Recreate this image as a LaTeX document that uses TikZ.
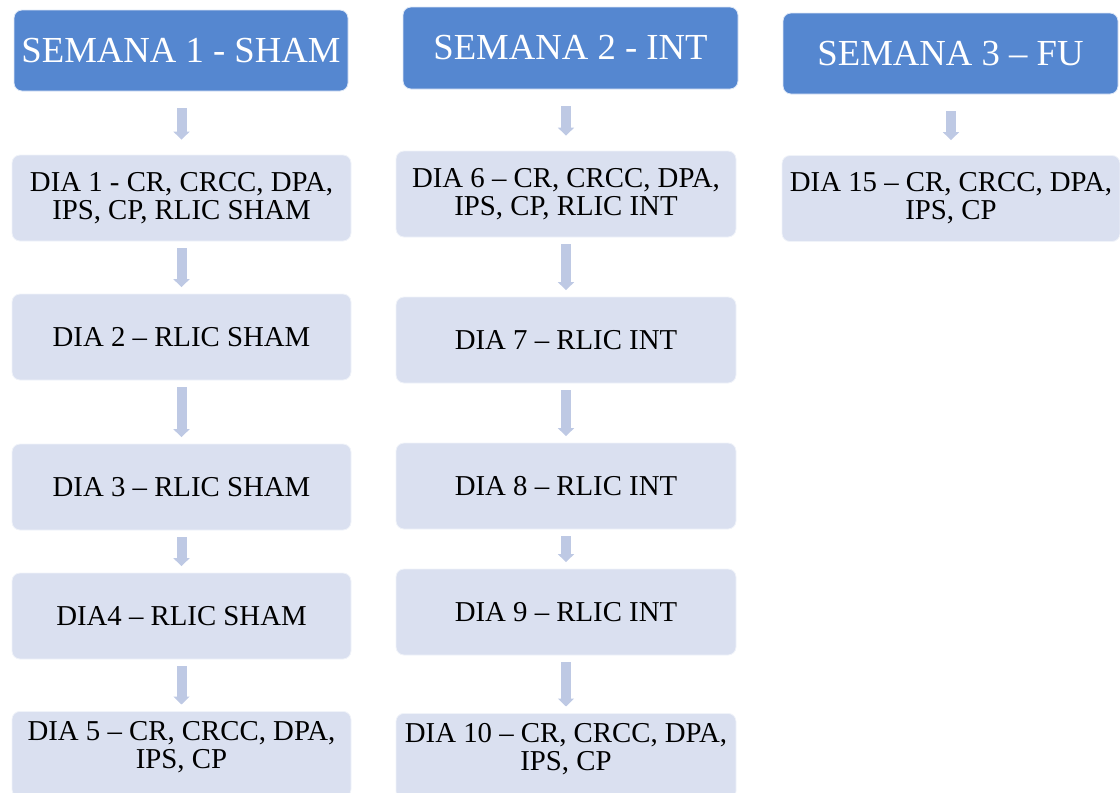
\documentclass[tikz,border=0pt]{standalone}
\usepackage{fontspec}
\setmainfont{Liberation Serif}
\usetikzlibrary{arrows.meta}

\definecolor{headfill}{RGB}{85,135,208}
\definecolor{dayfill}{RGB}{218,224,240}
\definecolor{flowfill}{RGB}{190,201,228}

\tikzset{
  week/.style={rectangle, rounded corners=8pt, fill=headfill, draw=white!80!headfill,
    line width=0.8pt, text=white, inner sep=0pt, minimum height=81pt,
    font=\fontsize{36.7}{40}\selectfont},
  day/.style={rectangle, rounded corners=8pt, fill=dayfill, draw=white!60!dayfill,
    line width=0.8pt, align=center, inner sep=0pt, minimum height=86pt,
    font=\fontsize{28.8}{28}\selectfont},
  flow/.style={draw=flowfill, line width=10pt, -{Triangle[width=16pt,length=8pt]},
    shorten <=7pt, shorten >=6.5pt},
  headflow/.style={flow, shorten <=17pt, shorten >=15pt}
}

\begin{document}
\begin{tikzpicture}[x=1pt, y=-1pt]
	\useasboundingbox (0,0) rectangle (1120,793);

	% weeks
	\node[week, minimum width=334pt] (h1) at (181, 50.5) {SEMANA 1 - SHAM};
	\node[week, minimum width=335pt, minimum height=82pt] (h2) at (570.5, 48) {SEMANA 2 - INT};
	\node[week, minimum width=335pt] (h3) at (950.5, 53.5) {SEMANA 3 – FU};

	% week 1
	\node[day, minimum width=339pt] (d1) at (181.5, 198) {DIA 1 - CR, CRCC, DPA,\\IPS, CP, RLIC SHAM};
	\node[day, minimum width=339pt] (d2) at (181.5, 337) {DIA 2 – RLIC SHAM};
	\node[day, minimum width=339pt] (d3) at (181.5, 487) {DIA 3 – RLIC SHAM};
	\node[day, minimum width=339pt] (d4) at (181.5, 616) {DIA4 – RLIC SHAM};
	\node[day, minimum width=339pt, anchor=north, text height=57pt, text depth=29pt] (d5) at (181.5, 711) {DIA 5 – CR, CRCC, DPA,\\IPS, CP};

	% week 2
	\node[day, minimum width=340pt] (d6) at (566, 194) {DIA 6 – CR, CRCC, DPA,\\IPS, CP, RLIC INT};
	\node[day, minimum width=340pt] (d7) at (566, 340) {DIA 7 – RLIC INT};
	\node[day, minimum width=340pt] (d8) at (566, 486) {DIA 8 – RLIC INT};
	\node[day, minimum width=340pt] (d9) at (566, 612) {DIA 9 – RLIC INT};
	\node[day, minimum width=340pt, anchor=north, text height=57pt, text depth=29pt] (d10) at (566, 713) {DIA 10 – CR, CRCC, DPA,\\IPS, CP};

	% week 3
	\node[day, minimum width=338pt] (d15) at (951, 198.5) {DIA 15 – CR, CRCC, DPA,\\IPS, CP};

	\draw[headflow] (d1 |- h1.south) -- (d1.north);
	\draw[flow] (d1) -- (d2);
	\draw[flow] (d2) -- (d3);
	\draw[flow] (d3) -- (d4);
	\draw[flow] (d4) -- (d5);

	\draw[headflow] (d6 |- h2.south) -- (d6.north);
	\draw[flow] (d6) -- (d7);
	\draw[flow] (d7) -- (d8);
	\draw[flow] (d8) -- (d9);
	\draw[flow] (d9) -- (d10);

	\draw[headflow] (d15 |- h3.south) -- (d15.north);
\end{tikzpicture}
\end{document}
